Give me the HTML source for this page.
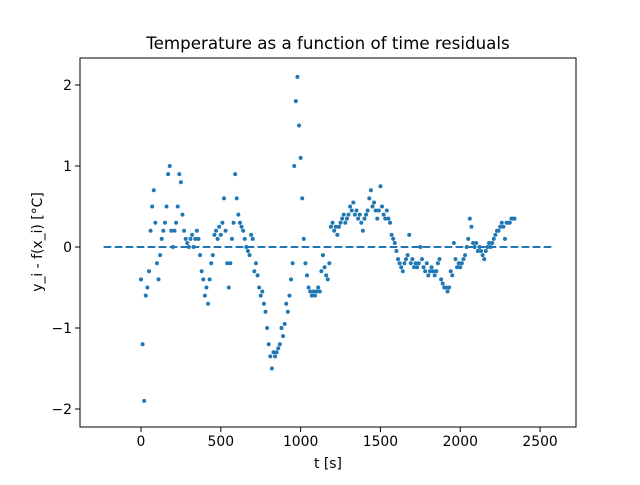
<!DOCTYPE html>
<html><head><meta charset="utf-8"><style>
body{margin:0;background:#fff}
svg text{font-family:"DejaVu Sans","Liberation Sans",sans-serif;fill:#000}
</style></head><body>
<svg width="640" height="480" viewBox="0 0 640 480">
<rect x="0" y="0" width="640" height="480" fill="#fff"/>
<text x="328" y="49" font-size="16.7" text-anchor="middle">Temperature as a function of time residuals</text>
<g id="plot"></g>
<g id="axes"></g>
<text x="328" y="468" font-size="13.9" text-anchor="middle">t [s]</text>
<text transform="translate(42,242) rotate(-90)" font-size="13.9" text-anchor="middle">y_i - f(x_i) [°C]</text>
</svg>
<script>
const residuals = [-0.4,-1.2,-1.9,-0.6,-0.5,-0.3,0.2,0.5,0.7,0.3,-0.2,-0.4,-0.1,0.1,0.2,0.3,0.5,0.9,1.0,0.2,0.0,0.2,0.3,0.5,0.9,0.8,0.4,0.2,0.1,0.05,0.0,0.1,0.15,0.0,0.1,0.2,0.1,-0.1,-0.3,-0.4,-0.6,-0.5,-0.7,-0.4,-0.2,-0.1,0.15,0.2,0.1,0.25,0.15,0.3,0.6,0.2,-0.2,-0.5,-0.2,0.1,0.3,0.9,0.6,0.4,0.3,0.25,0.2,0.1,0.0,-0.05,-0.1,0.15,0.1,-0.3,-0.2,-0.35,-0.5,-0.6,-0.55,-0.7,-0.8,-1.0,-1.2,-1.35,-1.5,-1.3,-1.35,-1.3,-1.25,-1.2,-1.0,-1.1,-0.95,-0.7,-0.8,-0.6,-0.4,-0.2,1.0,1.8,2.1,1.5,1.1,0.6,0.1,-0.2,-0.35,-0.5,-0.55,-0.6,-0.55,-0.6,-0.55,-0.5,-0.55,-0.3,-0.1,-0.25,-0.35,-0.4,-0.2,0.25,0.3,0.2,0.25,0.15,0.25,0.3,0.35,0.4,0.3,0.35,0.4,0.5,0.45,0.55,0.4,0.45,0.35,0.4,0.3,0.2,0.35,0.4,0.45,0.6,0.7,0.5,0.55,0.45,0.35,0.45,0.75,0.5,0.4,0.35,0.45,0.35,0.3,0.15,0.1,0.05,-0.05,-0.15,-0.2,-0.25,-0.3,-0.2,-0.15,-0.1,0.15,-0.2,-0.15,-0.25,-0.2,-0.25,-0.2,0.0,-0.15,-0.25,-0.3,-0.2,-0.35,-0.3,-0.25,-0.3,-0.35,-0.3,-0.2,-0.15,-0.4,-0.45,-0.5,-0.5,-0.55,-0.5,-0.3,-0.35,0.05,-0.15,-0.25,-0.2,-0.25,-0.2,-0.15,-0.1,0.0,0.1,0.35,0.25,0.05,0.0,0.05,-0.05,0.0,-0.05,-0.1,-0.15,-0.05,0.0,0.05,0.0,0.05,0.1,0.15,0.2,0.2,0.25,0.3,0.25,0.1,0.3,0.3,0.3,0.35,0.35,0.35];
const sampleStep = 10;
const xTicks = [0,500,1000,1500,2000,2500];
const yTicks = [-2,-1,0,1,2];
const zeroLine = [-234, 2580];

const L=80,R=576,T=58,B=427;
const xMin=-382,xMax=2725,yMin=-2.222,yMax=2.333;
const X=v=>L+(v-xMin)/(xMax-xMin)*(R-L);
const Y=v=>B-(v-yMin)/(yMax-yMin)*(B-T);
const NS="http://www.w3.org/2000/svg";
function mk(tag,attrs,parent){const e=document.createElementNS(NS,tag);for(const k in attrs)e.setAttribute(k,attrs[k]);parent.appendChild(e);return e;}
const plot=document.getElementById('plot'), axes=document.getElementById('axes');
residuals.forEach((v,i)=>{
  const c=mk('circle',{cx:X(i*sampleStep),cy:Y(v),r:2,fill:'#1f77b4'},plot);
  
  
});
const zl=mk('line',{x1:X(zeroLine[0]),x2:X(zeroLine[1]),y1:Y(0),y2:Y(0),stroke:'#1f77b4','stroke-width':2,'stroke-dasharray':'7.7,3.3'},plot);


const fr=mk('rect',{x:L,y:T,width:R-L,height:B-T,fill:'none',stroke:'#000','stroke-width':1},axes);


xTicks.forEach(t=>{
  mk('line',{x1:X(t),x2:X(t),y1:B,y2:B+5,stroke:'#000'},axes);
  const tx=mk('text',{x:X(t),y:B+19,'font-size':13.9,'text-anchor':'middle'},axes);
  tx.textContent=t;
  
  
});
yTicks.forEach(t=>{
  mk('line',{x1:L-5,x2:L,y1:Y(t),y2:Y(t),stroke:'#000'},axes);
  const tx=mk('text',{x:L-8,y:Y(t)+5,'font-size':13.9,'text-anchor':'end'},axes);
  tx.textContent=t<0?'\u2212'+Math.abs(t):t;
  
  
});
</script>
</body></html>
